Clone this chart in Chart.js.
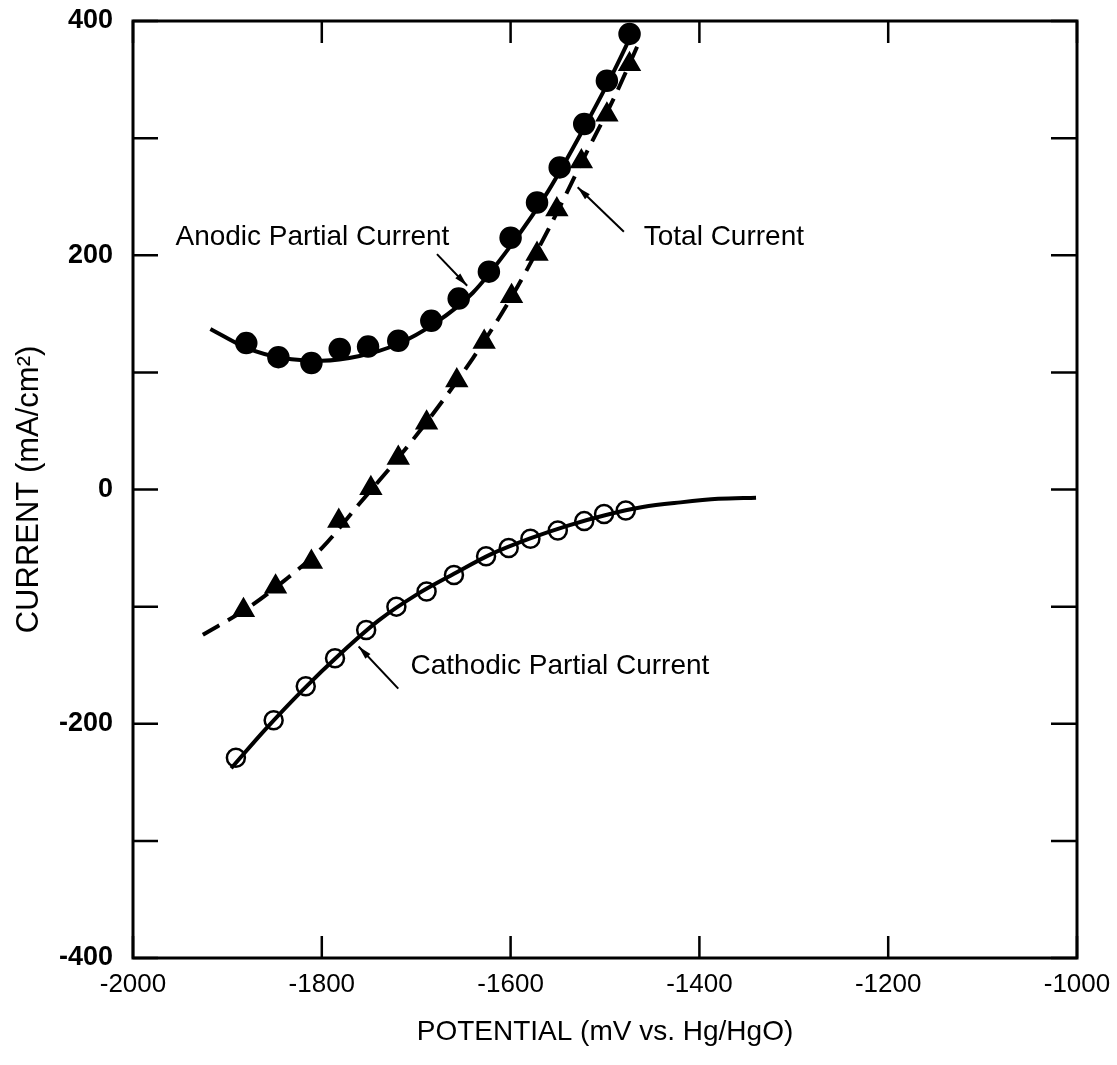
<!DOCTYPE html>
<html>
<head>
<meta charset="utf-8">
<title>Current vs potential</title>
<script src="https://cdn.jsdelivr.net/npm/chart.js@4.4.1/dist/chart.umd.min.js"></script>
<style>
    html, body { margin: 0; padding: 0; background: #fff; }
    #wrap { width: 1117px; height: 1065px; }
</style>
</head>
<body>
<div id="wrap"><canvas id="myChart"></canvas></div>
<script>
// measured points (mV, mA/cm2)
const anodicPotential = [-1880, -1846, -1811, -1781, -1751, -1719, -1684, -1655, -1623, -1600, -1572, -1548, -1522, -1498, -1474];
const anodicCurrent = [125, 113, 108, 120, 122, 127, 144, 163, 186, 215, 245, 275, 312, 349, 389];

const totalPotential = [-1883, -1849, -1811, -1782, -1748, -1719, -1689, -1657, -1628, -1599, -1572, -1551, -1525, -1498, -1474];
const totalCurrent = [-103, -83, -62, -27, 1, 27, 57, 93, 126, 165, 201, 239, 280, 320, 363];

const cathodicPotential = [-1891, -1851, -1817, -1786, -1753, -1721, -1689, -1660, -1626, -1602, -1579, -1550, -1522, -1501, -1478];
const cathodicCurrent = [-229, -197, -168, -144, -120, -100, -87, -73, -57, -50, -42, -35, -27, -21, -18];

// drawn curves
const anodicCurveX = [-1918, -1880, -1840, -1800, -1760, -1720, -1680, -1640, -1600, -1560, -1520, -1490, -1468];
const anodicCurveY = [137, 121, 112, 110, 114, 124, 142, 168, 208, 255, 312, 358, 395];

const totalCurveX = [-1926, -1880, -1840, -1800, -1760, -1720, -1680, -1640, -1600, -1560, -1520, -1490, -1466];
const totalCurveY = [-124, -102, -78, -50, -12, 26, 67, 112, 163, 222, 287, 335, 378];

const cathodicCurveX = [-1896, -1860, -1820, -1780, -1740, -1700, -1660, -1620, -1580, -1540, -1500, -1460, -1420, -1380, -1340];
const cathodicCurveY = [-238, -205, -171, -140, -112, -90, -72, -55, -42, -31, -22, -15, -11, -8, -7];

const xTicks = [-2000, -1800, -1600, -1400, -1200, -1000];

// callouts: text, text position, arrow from, arrow to (data units)
const callouts = [
    { text: 'Anodic Partial Current', at: [-1955, 215], from: [-1678, 201], to: [-1646, 174] },
    { text: 'Total Current', at: [-1459, 215], from: [-1480, 220], to: [-1529, 258] },
    { text: 'Cathodic Partial Current', at: [-1706, -151], from: [-1719, -170], to: [-1761, -134] }
];

const pairs = (xs, ys) => xs.map((x, i) => ({ x: x, y: ys[i] }));

const FONT = '"Liberation Sans", Arial, sans-serif';

const framePlugin = {
    id: 'frame',
    afterDatasetsDraw(chart) {
        const { ctx, chartArea: a, scales } = chart;
        ctx.save();
        ctx.strokeStyle = '#000';
        ctx.lineWidth = 3;
        ctx.strokeRect(a.left, a.top, a.right - a.left, a.bottom - a.top);

        // inward ticks
        ctx.lineWidth = 2.5;
        scales.y.ticks.forEach(t => {
            const py = scales.y.getPixelForValue(t.value);
            ctx.beginPath();
            ctx.moveTo(a.left, py); ctx.lineTo(a.left + 25, py);
            ctx.moveTo(a.right, py); ctx.lineTo(a.right - 26, py);
            ctx.stroke();
        });
        scales.x.ticks.forEach(t => {
            const px = scales.x.getPixelForValue(t.value);
            ctx.beginPath();
            ctx.moveTo(px, a.bottom); ctx.lineTo(px, a.bottom - 22);
            ctx.moveTo(px, a.top); ctx.lineTo(px, a.top + 22);
            ctx.stroke();
        });
        ctx.restore();
    },
    afterDraw(chart) {
        const { ctx, scales } = chart;
        const X = v => scales.x.getPixelForValue(v);
        const Y = v => scales.y.getPixelForValue(v);
        ctx.save();
        ctx.fillStyle = '#000';
        ctx.strokeStyle = '#000';
        ctx.font = '28px ' + FONT;
        ctx.textBaseline = 'middle';
        ctx.textAlign = 'left';
        callouts.forEach(c => {
            ctx.fillText(c.text, X(c.at[0]), Y(c.at[1]));
            const x1 = X(c.from[0]), y1 = Y(c.from[1]);
            const x2 = X(c.to[0]), y2 = Y(c.to[1]);
            ctx.lineWidth = 2;
            ctx.beginPath();
            ctx.moveTo(x1, y1); ctx.lineTo(x2, y2);
            ctx.stroke();
            const ang = Math.atan2(y2 - y1, x2 - x1);
            ctx.beginPath();
            ctx.moveTo(x2, y2);
            ctx.lineTo(x2 - 14 * Math.cos(ang - 0.25), y2 - 14 * Math.sin(ang - 0.25));
            ctx.lineTo(x2 - 14 * Math.cos(ang + 0.25), y2 - 14 * Math.sin(ang + 0.25));
            ctx.closePath();
            ctx.fill();
        });
        ctx.restore();
    }
};

function curve(data, dashed) {
    return {
        type: 'line',
        data: data,
        showLine: true,
        borderColor: '#000',
        borderWidth: 4,
        borderDash: dashed ? [19, 10] : [],
        pointRadius: 0,
        cubicInterpolationMode: 'monotone',
        fill: false
    };
}

function markers(data, style, filled) {
    return {
        type: 'scatter',
        data: data,
        showLine: false,
        pointStyle: style,
        pointRadius: style === 'triangle' ? 11 : (filled ? 10 : 9),
        pointBackgroundColor: filled ? '#000' : '#fff',
        pointBorderColor: '#000',
        pointBorderWidth: 2.5
    };
}

const config = {
    type: 'scatter',
    data: {
        datasets: [
            curve(pairs(anodicCurveX, anodicCurveY), false),
            curve(pairs(totalCurveX, totalCurveY), true),
            curve(pairs(cathodicCurveX, cathodicCurveY), false),
            markers(pairs(anodicPotential, anodicCurrent), 'circle', true),
            markers(pairs(totalPotential, totalCurrent), 'triangle', true),
            markers(pairs(cathodicPotential, cathodicCurrent), 'circle', false)
        ]
    },
    options: {
        responsive: true,
        maintainAspectRatio: false,
        animation: false,
        layout: {
            padding: { left: 8, top: 21, right: 40, bottom: 6 }
        },
        plugins: {
            legend: { display: false },
            tooltip: { enabled: false }
        },
        scales: {
            x: {
                type: 'linear',
                min: -2000,
                max: -1000,
                afterFit: s => {
                    s.height = 101;
                    s.paddingLeft = 0;
                    s.paddingRight = 0;
                },
                afterBuildTicks: s => { s.ticks = xTicks.map(v => ({ value: v })); },
                grid: { display: false, drawTicks: false },
                border: { display: false },
                ticks: {
                    color: '#000',
                    padding: 11,
                    font: { family: FONT, size: 26 },
                    callback: v => String(v)
                },
                title: {
                    display: true,
                    text: 'POTENTIAL (mV vs. Hg/HgO)',
                    color: '#000',
                    font: { family: FONT, size: 28 },
                    padding: { top: 0, bottom: 10 }
                }
            },
            y: {
                type: 'linear',
                min: -400,
                max: 400,
                afterFit: s => {
                    s.width = 125;
                    s.paddingTop = 0;
                    s.paddingBottom = 0;
                },
                ticks: {
                    stepSize: 100,
                    color: '#000',
                    padding: 20,
                    font: { family: FONT, size: 27, weight: 'bold' },
                    callback: v => (v % 200 === 0 ? String(v) : '')
                },
                grid: { display: false, drawTicks: false },
                border: { display: false },
                title: {
                    display: true,
                    text: 'CURRENT (mA/cm²)',
                    color: '#000',
                    font: { family: FONT, size: 31 },
                    padding: { top: 3, bottom: 0 }
                }
            }
        }
    },
    plugins: [framePlugin]
};

const ctx = document.getElementById('myChart').getContext('2d');

if (ctx) {
    new Chart(ctx, config);
}
</script>
</body>
</html>
